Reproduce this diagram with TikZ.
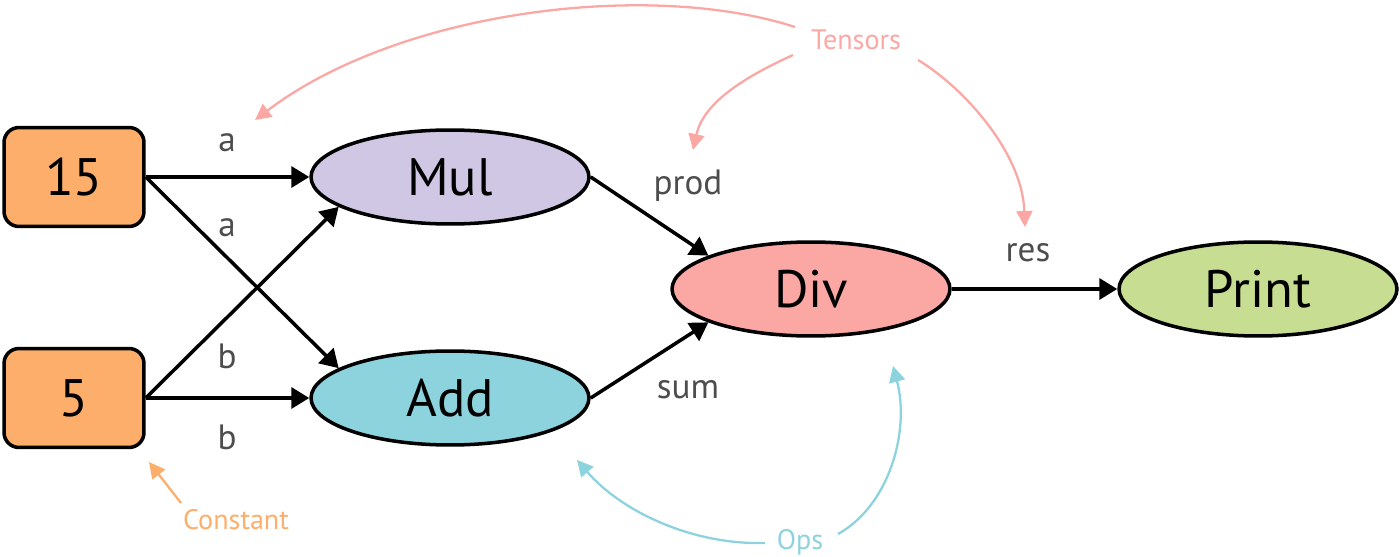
\documentclass[tikz,border=0pt]{standalone}
\usepackage{fontspec}
\setmainfont{PT Sans}
\usetikzlibrary{positioning,shapes.geometric,arrows.meta}
\definecolor{constfill}{HTML}{FDAE6B}
\definecolor{mulfill}{HTML}{CFC7E4}
\definecolor{addfill}{HTML}{8DD3DE}
\definecolor{divfill}{HTML}{FBA8A4}
\definecolor{printfill}{HTML}{C7DE92}
\definecolor{labelgray}{HTML}{4D4D4D}
\tikzset{
every path/.style={line width=2pt}
, every node/.style={font=\fontsize{20}{24}\selectfont}
, opnode/.style={ellipse,draw,inner sep=0,minimum width=5.56cm,minimum height=1.88cm,font=\fontsize{30}{36}\selectfont}
, constnode/.style={rectangle,draw,rounded corners=0.3cm,fill=constfill,minimum width=2.8cm,minimum height=1.98cm,font=\fontsize{30}{36}\selectfont}
, edgelabel/.style={color=labelgray}
, tensorvar/.style={color=divfill,font=\fontsize{16}{19}\selectfont}
, opsvar/.style={color=addfill,font=\fontsize{16}{19}\selectfont}
, constvar/.style={color=constfill,font=\fontsize{16}{19}\selectfont}
, flow/.style={-{Triangle[length=0.36cm,width=0.42cm]}}
, hint/.style={line width=1.3pt,-{Triangle[length=0.32cm,width=0.32cm]}}}

\begin{document}
\begin{tikzpicture}[x=0.02cm,y=-0.02cm]
\useasboundingbox (0,0) rectangle (1400,557);
\node[constnode] at (74,177) (c15) {15};
\node[constnode] at (74,398) (c5) {5};
\node[opnode,fill=mulfill] at (450,177) (mul) {Mul};
\node[opnode,fill=addfill] at (450,398) (add) {Add};
\node[opnode,fill=divfill] at (811,289) (div) {Div};
\node[opnode,fill=printfill] at (1258,289) (print) {Print};
% edge labels
\node[edgelabel] at (227,143) (la1) {a};
\node[edgelabel] at (227,228) (la2) {a};
\node[edgelabel] at (227,356) (lb1) {b};
\node[edgelabel] at (227,437) (lb2) {b};
\node[edgelabel] at (688,186) (lprod) {prod};
\node[edgelabel] at (688,390) (lsum) {sum};
\node[edgelabel] at (1028,253) (lres) {res};
% annotations
\node[tensorvar] at (856,40) (tensors) {Tensors};
\node[opsvar] at (800,542) (ops) {Ops};
\node[constvar] at (236,520) (constant) {Constant};
\coordinate (ta) at (795,27);
\coordinate (tb) at (793,55);
\coordinate (tc) at (918,60);
\coordinate (tipa) at (255,120);
\coordinate (tipb) at (693,150);
\coordinate (tipc) at (1025,227);
\coordinate (oa) at (765,543);
\coordinate (ob) at (838,534);
\coordinate (tipd) at (577,460);
\coordinate (tipe) at (893,366);
\coordinate (ca) at (181,503);
\coordinate (tipf) at (149,462);
% data flow
\draw [flow] (c15.east) -- (mul.west);
\draw [flow] (c15.east) -- (add.165);
\draw [flow] (c5.east) -- (mul.195);
\draw [flow] (c5.east) -- (add.west);
\draw [flow] (mul.east) -- (div.162);
\draw [flow] (add.east) -- (div.198);
\draw [flow] (div.east) -- (print.west);
% pointers
\draw [hint,divfill] (ta) .. controls (650,-20) and (400,10) .. (tipa);
\draw [hint,divfill] (tb) .. controls (738,80) and (703,105) .. (tipb);
\draw [hint,divfill] (tc) .. controls (960,85) and (1022,150) .. (tipc);
\draw [hint,addfill] (oa) .. controls (690,545) and (620,510) .. (tipd);
\draw [hint,addfill] (ob) .. controls (890,505) and (910,430) .. (tipe);
\draw [hint,constfill] (ca) -- (tipf);
\end{tikzpicture}
\end{document}
